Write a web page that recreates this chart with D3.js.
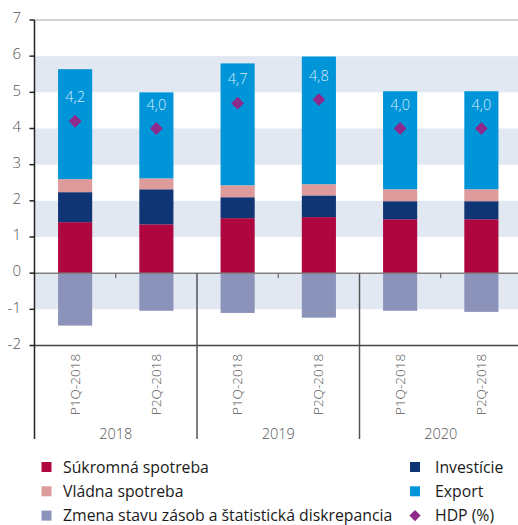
<!DOCTYPE html>
<html>
<head>
<meta charset="utf-8">
<script src="https://cdn.jsdelivr.net/npm/d3@7"></script>
<style>
  body { margin: 0; background: #fff; }
  svg { display: block; font-family: "Open Sans", sans-serif; }
  .tick-label { fill: #555; font-size: 15px; font-weight: 300; }
  .cat { fill: #555; font-size: 13.5px; font-weight: 300; }
  .legend text { fill: #1a1a1a; font-size: 15.8px; }
</style>
</head>
<body>
<div id="app"></div>
<script>
const CATEGORIES = ['P1Q-2018', 'P2Q-2018', 'P1Q-2018', 'P2Q-2018', 'P1Q-2018', 'P2Q-2018'];
const YEARS = ['2018', '2019', '2020'];
const Y_TICKS = [7, 6, 5, 4, 3, 2, 1, 0, -1, -2];

const sukromna  = [1.41, 1.35, 1.52, 1.55, 1.49, 1.49];
const investicie = [0.83, 0.97, 0.58, 0.60, 0.50, 0.50];
const vladna    = [0.36, 0.30, 0.33, 0.31, 0.33, 0.33];
const exportV   = [3.04, 2.38, 3.37, 3.53, 2.71, 2.71];
const zmena     = [-1.45, -1.04, -1.10, -1.23, -1.04, -1.07];
const hdp       = [4.2, 4.0, 4.7, 4.8, 4.0, 4.0];

const SERIES = [
  { name: 'Súkromná spotreba', values: sukromna, color: '#b0063f' },
  { name: 'Investície', values: investicie, color: '#103574' },
  { name: 'Vládna spotreba', values: vladna, color: '#dd9b9c' },
  { name: 'Export', values: exportV, color: '#0095d9' }
];
const NEG = { name: 'Zmena stavu zásob a štatistická diskrepancia', values: zmena, color: '#8c93bb' };
const HDP_COLOR = '#8d2a8c';

const W = 518, H = 525;
const plot = { left: 34.5, right: 522, top: 20, bottom: 345.5, axisBottom: 439 };

const svg = d3.select('#app').append('svg')
    .attr('width', W)
    .attr('height', H);

const x = d3.scaleBand()
    .domain(d3.range(CATEGORIES.length))
    .range([plot.left, plot.right])
    .paddingInner(0.58)
    .paddingOuter(0.29);

const xGroup = d3.scaleBand()
    .domain(YEARS)
    .range([plot.left, plot.right]);

const y = d3.scaleLinear()
    .domain([-2, 7])
    .range([plot.bottom, plot.top]);

// bands
svg.selectAll('.band')
    .data([5, 3, 1, -1])
  .enter().append('rect')
    .attr('x', plot.left)
    .attr('width', plot.right - plot.left)
    .attr('y', d => y(d + 1))
    .attr('height', d => y(d) - y(d + 1))
    .attr('fill', '#e2e8f2');

// top grid line
svg.append('line')
    .attr('x1', plot.left).attr('x2', plot.right)
    .attr('y1', y(7)).attr('y2', y(7))
    .attr('stroke', '#c4c4c4').attr('stroke-width', 1.5);

// stacked bars
const bw = x.bandwidth();
CATEGORIES.forEach((c, i) => {
  let base = 0;
  SERIES.forEach(s => {
    const v = s.values[i];
    svg.append('rect')
        .attr('x', x(i))
        .attr('width', bw)
        .attr('y', y(base + v))
        .attr('height', y(base) - y(base + v))
        .attr('fill', s.color);
    base += v;
  });
  const n = NEG.values[i];
  svg.append('rect')
      .attr('x', x(i))
      .attr('width', bw)
      .attr('y', y(0))
      .attr('height', y(n) - y(0))
      .attr('fill', NEG.color);
});

// zero line
svg.append('line')
    .attr('x1', plot.left).attr('x2', plot.right)
    .attr('y1', y(0)).attr('y2', y(0))
    .attr('stroke', '#808080').attr('stroke-width', 1.5);

// -2 line
svg.append('line')
    .attr('x1', plot.left).attr('x2', plot.right)
    .attr('y1', y(-2)).attr('y2', y(-2))
    .attr('stroke', '#444').attr('stroke-width', 1.5);

// group dividers
svg.selectAll('.divider')
    .data(YEARS.slice(1))
  .enter().append('line')
    .attr('x1', d => xGroup(d)).attr('x2', d => xGroup(d))
    .attr('y1', y(0)).attr('y2', plot.axisBottom)
    .attr('stroke', '#555').attr('stroke-width', 1.5);

// small ticks at group centers
svg.selectAll('.gtick')
    .data(YEARS)
  .enter().append('line')
    .attr('x1', d => xGroup(d) + xGroup.bandwidth() / 2)
    .attr('x2', d => xGroup(d) + xGroup.bandwidth() / 2)
    .attr('y1', y(0)).attr('y2', y(0) + 5)
    .attr('stroke', '#555').attr('stroke-width', 1);

// y axis
svg.append('line')
    .attr('x1', plot.left).attr('x2', plot.left)
    .attr('y1', y(7)).attr('y2', plot.axisBottom)
    .attr('stroke', '#222').attr('stroke-width', 1.5);

svg.selectAll('.ytick')
    .data(Y_TICKS)
  .enter().append('line')
    .attr('x1', plot.left - 5).attr('x2', plot.left)
    .attr('y1', d => y(d)).attr('y2', d => y(d))
    .attr('stroke', '#222').attr('stroke-width', 1.5);

svg.selectAll('.ylabel')
    .data(Y_TICKS)
  .enter().append('text')
    .attr('class', 'tick-label')
    .attr('x', 21)
    .attr('y', d => y(d) - 2)
    .attr('dy', '0.35em')
    .style('text-anchor', 'end')
    .text(d => d);

// category labels
svg.selectAll('.cat')
    .data(CATEGORIES)
  .enter().append('text')
    .attr('class', 'cat')
    .attr('transform', (d, i) => `translate(${x(i) + bw / 2 + 4.5}, 415) rotate(-90)`)
    .style('text-anchor', 'start')
    .text(d => d);

// year labels
svg.selectAll('.year')
    .data(YEARS)
  .enter().append('text')
    .attr('class', 'cat')
    .attr('x', d => xGroup(d) + xGroup.bandwidth() / 2)
    .attr('y', 439)
    .style('text-anchor', 'middle')
    .style('font-size', '14.5px')
    .text(d => d);

// HDP diamonds and labels
const diamond = d3.symbol().type(d3.symbolDiamond2).size(105);
svg.selectAll('.hdp')
    .data(hdp)
  .enter().append('path')
    .attr('d', diamond)
    .attr('transform', (d, i) => `translate(${x(i) + bw / 2}, ${y(d)})`)
    .attr('fill', HDP_COLOR);

svg.selectAll('.hdp-label')
    .data(hdp)
  .enter().append('text')
    .attr('x', (d, i) => x(i) + bw / 2)
    .attr('y', d => y(d) - 24)
    .attr('dy', '0.35em')
    .style('text-anchor', 'middle')
    .style('font-size', '14.5px')
    .style('font-weight', 300)
    .attr('fill', '#d4ecfa')
    .text(d => d3.format('.1f')(d).replace('.', ','));

// legend
const legendItems = [
  { name: SERIES[0].name, color: SERIES[0].color, col: 0, row: 0 },
  { name: SERIES[2].name, color: SERIES[2].color, col: 0, row: 1 },
  { name: NEG.name, color: NEG.color, col: 0, row: 2 },
  { name: SERIES[1].name, color: SERIES[1].color, col: 1, row: 0 },
  { name: SERIES[3].name, color: SERIES[3].color, col: 1, row: 1 },
  { name: 'HDP (%)', color: HDP_COLOR, col: 1, row: 2, diamond: true }
];

const legend = svg.selectAll('.legend')
    .data(legendItems)
  .enter().append('g')
    .attr('class', 'legend')
    .attr('transform', d => `translate(${d.col ? 410 : 41.5}, ${467 + d.row * 24.3})`);

legend.each(function (d) {
  const g = d3.select(this);
  if (d.diamond) {
    g.append('path')
        .attr('d', d3.symbol().type(d3.symbolDiamond2).size(80))
        .attr('transform', 'translate(5, 0)')
        .attr('fill', d.color);
  } else {
    g.append('rect')
        .attr('x', 0).attr('y', -5)
        .attr('width', 10).attr('height', 10)
        .attr('fill', d.color);
  }
  g.append('text')
      .attr('x', d.col ? 25 : 21.5)
      .attr('y', 0)
      .attr('dy', '0.35em')
      .text(d.name);
});
</script>
</body>
</html>
